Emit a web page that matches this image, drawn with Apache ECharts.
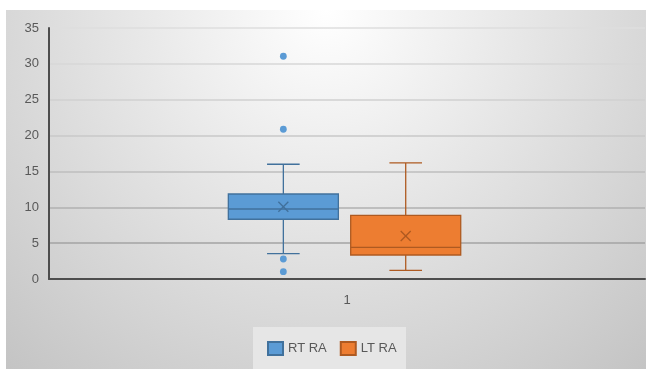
<!DOCTYPE html>
<html>
<head>
<meta charset="utf-8">
<script src="https://cdn.jsdelivr.net/npm/echarts@6/dist/echarts.min.js"></script>
<style>
  html, body { margin: 0; padding: 0; background: #ffffff; }
  #chart { width: 651px; height: 369px; }
</style>
</head>
<body>
<div id="chart"></div>
<script>
// Category and series names
const categories = ['1'];
const seriesNames = ['RT RA', 'LT RA'];

// Five-number summaries: [lower whisker, Q1, median, Q3, upper whisker]
const rtBox = [3.53, 8.33, 9.76, 11.85, 16.0];
const ltBox = [1.21, 3.35, 4.42, 8.88, 16.18];

// Means (drawn as an X marker)
const rtMean = 10.08;
const ltMean = 6.0;

// Points outside the whiskers
const rtOutliers = [31.06, 20.88, 2.79, 1.02];
const ltOutliers = [];

// Value axis ticks
const yTicks = [0, 5, 10, 15, 20, 25, 30, 35];

// Appearance of each series (offset / widths as fractions of the category band)
const looks = [
  { fill: '#5b9bd5', stroke: '#41719c', offset: -0.1068, width: 0.1846, cap: 0.0547 },
  { fill: '#ed7d31', stroke: '#ae5a21', offset: 0.0985, width: 0.1846, cap: 0.0547 }
];

function boxRenderer(look) {
  return function (params, api) {
    const cat = api.value(0);
    const band = api.size([1, 0])[0];
    const cx = api.coord([cat, 0])[0] + look.offset * band;
    const w = look.width * band;
    const cap = look.cap * band;
    const y = (i) => api.coord([cat, api.value(i)])[1];
    const yMin = y(1), yQ1 = y(2), yMed = y(3), yQ3 = y(4), yMax = y(5), yMean = y(6);
    const ls = { stroke: look.stroke, lineWidth: 1.3 };
    const m = 5;
    return {
      type: 'group',
      children: [
        { type: 'line', shape: { x1: cx, y1: yQ3, x2: cx, y2: yMax }, style: ls },
        { type: 'line', shape: { x1: cx - cap / 2, y1: yMax, x2: cx + cap / 2, y2: yMax }, style: ls },
        { type: 'line', shape: { x1: cx, y1: yQ1, x2: cx, y2: yMin }, style: ls },
        { type: 'line', shape: { x1: cx - cap / 2, y1: yMin, x2: cx + cap / 2, y2: yMin }, style: ls },
        { type: 'rect', shape: { x: cx - w / 2, y: yQ3, width: w, height: yQ1 - yQ3 },
          style: { fill: look.fill, stroke: look.stroke, lineWidth: 1.3 } },
        { type: 'line', shape: { x1: cx - w / 2, y1: yMed, x2: cx + w / 2, y2: yMed }, style: ls },
        { type: 'line', shape: { x1: cx - m, y1: yMean - m, x2: cx + m, y2: yMean + m }, style: ls },
        { type: 'line', shape: { x1: cx - m, y1: yMean + m, x2: cx + m, y2: yMean - m }, style: ls }
      ]
    };
  };
}

function outlierRenderer(look) {
  return function (params, api) {
    const cat = api.value(0);
    const band = api.size([1, 0])[0];
    const p = api.coord([cat, api.value(1)]);
    return {
      type: 'circle',
      shape: { cx: p[0] + look.offset * band, cy: p[1], r: 3.4 },
      style: { fill: look.fill }
    };
  };
}

const boxes = [rtBox.concat([rtMean]), ltBox.concat([ltMean])];
const outliers = [rtOutliers, ltOutliers];

const series = [];
seriesNames.forEach(function (name, i) {
  const look = looks[i];
  series.push({
    type: 'custom',
    name: name,
    renderItem: boxRenderer(look),
    itemStyle: { color: look.fill, borderColor: look.stroke, borderWidth: 1 },
    encode: { x: 0, y: [1, 2, 3, 4, 5, 6] },
    data: [[0].concat(boxes[i])],
    z: 3
  });
  series.push({
    type: 'custom',
    name: name,
    renderItem: outlierRenderer(look),
    itemStyle: { color: look.fill },
    encode: { x: 0, y: 1 },
    data: outliers[i].map(function (v) { return [0, v]; }),
    z: 3
  });
});

const chart = echarts.init(document.getElementById('chart'), null, { renderer: 'canvas' });

const textColor = '#595959';
const fontFamily = '"Liberation Sans", Arial, sans-serif';

chart.setOption({
  animation: false,
  textStyle: { fontFamily: fontFamily },
  graphic: [
    {
      type: 'rect',
      z: -10,
      silent: true,
      shape: { x: 6, y: 10, width: 640, height: 359 },
      style: {
        fill: {
          type: 'radial', x: 326, y: 10, r: 480, global: true,
          colorStops: [
            { offset: 0, color: '#ffffff' },
            { offset: 1, color: '#c4c4c4' }
          ]
        }
      }
    },
    {
      type: 'rect',
      z: -9,
      silent: true,
      shape: { x: 253, y: 327, width: 153, height: 42 },
      style: { fill: '#e6e6e6' }
    }
  ],
  grid: { left: 49, right: 6, top: 28, bottom: 90, containLabel: false },
  legend: {
    data: seriesNames,
    left: 267,
    top: 341,
    padding: 0,
    icon: 'rect',
    itemWidth: 15,
    itemHeight: 13,
    itemGap: 13,
    textStyle: { color: textColor, fontSize: 13, fontFamily: fontFamily }
  },
  xAxis: {
    type: 'category',
    data: categories,
    axisLine: { show: true, lineStyle: { color: '#4d4d4d', width: 2 } },
    axisTick: { show: false },
    axisLabel: { color: textColor, fontSize: 13, margin: 15 },
    splitLine: { show: false }
  },
  yAxis: {
    type: 'value',
    min: yTicks[0],
    max: yTicks[yTicks.length - 1],
    interval: yTicks[1] - yTicks[0],
    axisLine: { show: true, lineStyle: { color: '#4d4d4d', width: 2 } },
    axisTick: { show: false },
    axisLabel: { color: textColor, fontSize: 13, margin: 10 },
    splitLine: {
      show: true,
      lineStyle: {
        width: 1.5,
        color: ['#4d4d4d', '#a3a3a3', '#b1b1b1', '#bebebe', '#c8c8c8', '#d0d0d0', '#d7d7d7', '#dedede']
      }
    }
  },
  series: series
});
</script>
</body>
</html>
